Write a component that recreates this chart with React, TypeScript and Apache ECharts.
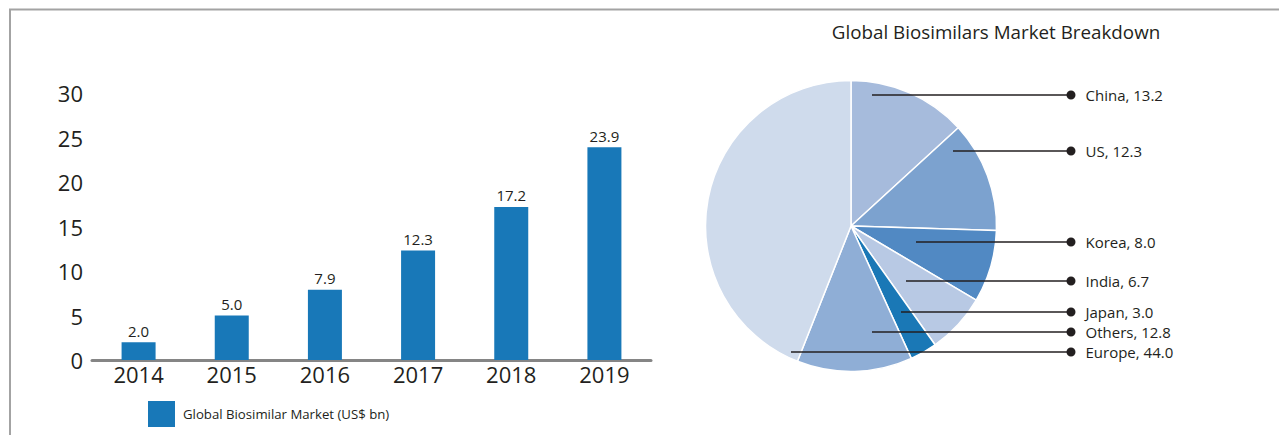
import React, { useEffect, useRef } from "react";
import * as echarts from "echarts";

const years = ["2014", "2015", "2016", "2017", "2018", "2019"];
const marketValues = [2.0, 5.0, 7.9, 12.3, 17.2, 23.9];
const barSeriesName = "Global Biosimilar Market (US$ bn)";

const regions = ["China", "US", "Korea", "India", "Japan", "Others", "Europe"];
const regionValues = [13.2, 12.3, 8.0, 6.7, 3.0, 12.8, 44.0];
const regionColors = ["#a6bbdc", "#7ca2cf", "#5189c3", "#b8c9e4", "#1a78b6", "#8faed6", "#cfdbec"];

// label callout layout (pixels)
const calloutY = [95, 151, 242, 281, 312, 332, 352];
const calloutStartX = [872, 953, 916, 906, 901, 872, 791];
const calloutDotX = 1071;

const FONT = "'Open Sans', 'Noto Sans', sans-serif";
const INK = "#231f20";

export default function App() {
  const ref = useRef<HTMLDivElement>(null);
  useEffect(() => {
    document.body.style.margin = "0";
    const chart = echarts.init(ref.current!, null, { renderer: "svg" });
    const calloutLines = regions.map((_, i) => ({
      type: "line",
      z: 100,
      silent: true,
      shape: { x1: calloutStartX[i], y1: calloutY[i], x2: calloutDotX, y2: calloutY[i] },
      style: { stroke: INK, lineWidth: 1.4 },
    }));
    chart.setOption({
      animation: false,
      textStyle: { fontFamily: FONT, color: INK },
      graphic: [
        {
          type: "rect",
          shape: { x: 10, y: 9.5, width: 1400, height: 600 },
          style: { fill: "none", stroke: "#a3a3a3", lineWidth: 2 },
        },
        ...calloutLines,
      ],
      title: {
        text: "Global Biosimilars Market Breakdown",
        left: 991,
        top: 17,
        textAlign: "center",
        textStyle: { fontFamily: FONT, fontSize: 18.8, fontWeight: "normal", color: INK },
      },
      legend: {
        data: [barSeriesName],
        left: 148,
        top: 401,
        padding: 0,
        itemWidth: 27,
        itemHeight: 26,
        icon: "rect",
        textStyle: { fontFamily: FONT, fontSize: 13.2, color: INK, padding: [0, 0, 0, 3] },
      },
      grid: { left: 92, right: 628, top: 93, bottom: 75 },
      xAxis: {
        type: "category",
        data: years,
        axisLine: { lineStyle: { color: "#858585", width: 3 } },
        axisTick: { show: false },
        axisLabel: { fontFamily: FONT, fontSize: 22, color: INK, margin: 3 },
      },
      yAxis: {
        type: "value",
        min: 0,
        max: 30,
        interval: 5,
        axisLine: { show: false },
        axisTick: { show: false },
        splitLine: { show: false },
        axisLabel: { fontFamily: FONT, fontSize: 22, color: INK, margin: 9 },
      },
      series: [
        {
          type: "bar",
          name: barSeriesName,
          data: marketValues,
          barWidth: 34,
          itemStyle: { color: "#1878b8" },
          label: {
            show: true,
            position: "top",
            distance: 4,
            fontFamily: FONT,
            fontSize: 15,
            color: INK,
            formatter: (p: any) => Number(p.value).toFixed(1),
          },
        },
        {
          type: "pie",
          name: "Breakdown",
          center: [851, 226],
          radius: 145.5,
          startAngle: 90,
          clockwise: true,
          itemStyle: { borderColor: "#ffffff", borderWidth: 1.5 },
          emphasis: { disabled: true },
          data: regions.map((r, i) => ({
            name: r,
            value: regionValues[i],
            itemStyle: { color: regionColors[i] },
          })),
          label: {
            show: true,
            position: "outside",
            fontFamily: FONT,
            fontSize: 15,
            color: INK,
            formatter: (p: any) => `{dot|\u00a0}{t|${p.name}, ${Number(p.value).toFixed(1)}}`,
            rich: {
              dot: { width: 9, height: 9, borderRadius: 4.5, backgroundColor: INK },
              t: { fontFamily: FONT, fontSize: 15, color: INK, padding: [0, 0, 0, 10] },
            },
          },
          labelLine: { show: false },
          labelLayout: (params: any) => {
            const i = params.dataIndex;
            return {
              x: calloutDotX - 4.5,
              y: calloutY[i],
              align: "left",
              verticalAlign: "middle",
            };
          },
        },
      ],
    });
    return () => chart.dispose();
  }, []);
  return <div ref={ref} style={{ width: 1279, height: 435 }} />;
}
